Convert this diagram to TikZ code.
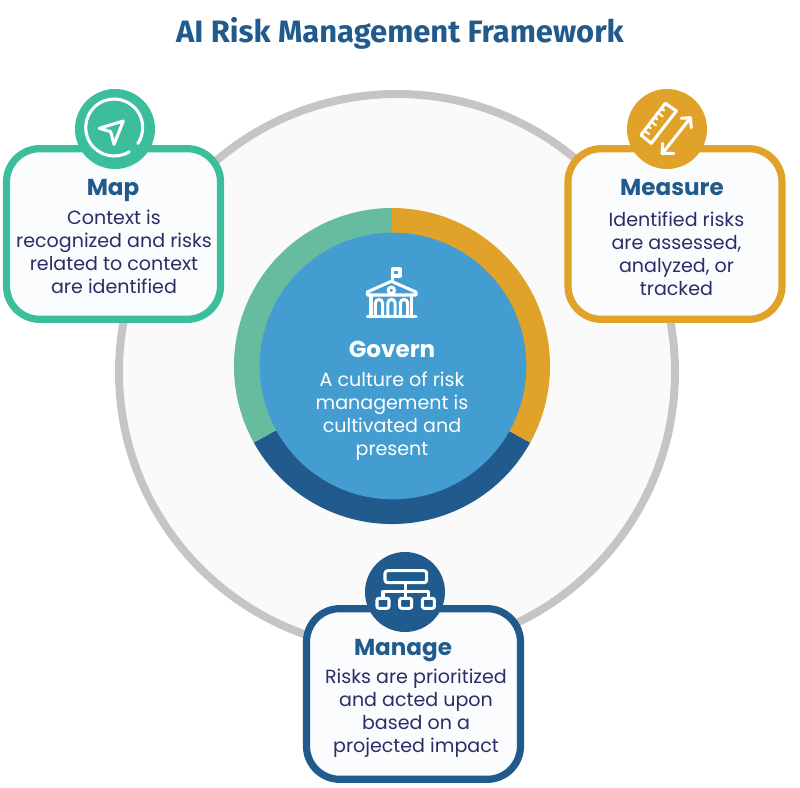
\documentclass[tikz,border=0pt]{standalone}
\usetikzlibrary{calc}
\usepackage{fontspec}
\setmainfont{Poppins}
\newfontfamily\titlefont{Fira Sans}
\definecolor{rmfgreen}{HTML}{3CBE9C}
\definecolor{rmfsage}{HTML}{67BC9F}
\definecolor{rmforange}{HTML}{E0A229}
\definecolor{rmfnavy}{HTML}{215A8C}
\definecolor{rmfblue}{HTML}{449DD1}
\definecolor{rmfgrey}{HTML}{C8C4C6}
\definecolor{rmftext}{HTML}{2A2E66}
\definecolor{rmfpaper}{HTML}{FBFCFE}
\tikzset{
  box/.style={draw=#1,line width=5.4pt,fill=rmfpaper,rounded corners=25pt,minimum width=160.5pt,minimum height=128pt,inner sep=0pt},
  badge/.style={circle,fill=#1,minimum size=60pt,inner sep=0pt},
  head/.style={font=\fontsize{17.3}{20}\selectfont\bfseries,text=rmfnavy},
  body/.style={font=\fontsize{14.3}{17.25}\selectfont,text=rmftext,align=center},
  glyph/.style={draw=white,line width=2.3pt,line join=round,line cap=round},
}
\begin{document}
\begin{tikzpicture}[x=0.75pt,y=-0.75pt]
\useasboundingbox (0,0) rectangle (800,788);
\def\cx{392} \def\cy{366} \def\rr{158} % coloured ring
\node[font=\titlefont\fontsize{23.2}{28}\selectfont\bfseries,text=rmfnavy] (title) at (400,33.5) {AI Risk Management Framework};
\draw[rmfgrey,line width=6pt,fill=black!2] (397,372) circle (278);
\fill[rmfnavy] (\cx,\cy) -- +(29:\rr) arc[start angle=29,end angle=151,radius=\rr] -- cycle;
\fill[rmfsage] (\cx,\cy) -- +(151:\rr) arc[start angle=151,end angle=270,radius=\rr] -- cycle;
\fill[rmforange] (\cx,\cy) -- +(-90:\rr) arc[start angle=-90,end angle=29,radius=\rr] -- cycle;
\node[circle,fill=rmfblue,minimum size=200pt,inner sep=0pt] (govern) at (393,366) {};
\node[head,text=white] (governhead) at (392,349) {Govern};
\node[body,text=white] (governbody) at (392,416.5) {A culture of risk\\management is\\cultivated and\\present};
% Map
\node[box=rmfgreen] (mapbox) at (113.5,234) {};
\node[badge=rmfgreen] (mapbadge) at (115,129) {};
\node[head] (maphead) at (113,190) {Map};
\node[body] (mapbody) at (114,252) {Context is\\recognized and risks\\related to context\\are identified};
\draw[glyph] (129.3,151.7) arc[start angle=58,end angle=394,radius=28.5];
\draw[glyph] (123.3,121) -- (99.3,128.3) -- (110.7,131.7) -- (114,144.3) -- cycle;
% Measure
\node[box=rmforange] (measurebox) at (675,234) {};
\node[badge=rmforange] (measurebadge) at (667,129) {};
\node[head] (measurehead) at (672,187.5) {Measure};
\node[body] (measurebody) at (676.5,254) {Identified risks\\are assessed,\\analyzed, or\\tracked};
\draw[glyph] (665.3,103.3) -- (676.3,111) -- (651.3,143.3) -- (641,135) -- cycle;
\foreach \t/\l in {0.14/6,0.28/3.5,0.42/6,0.56/3.5,0.70/6,0.84/3.5}
  \draw[glyph,line width=1.6pt] ($(641,135)!\t!(665.3,103.3)$) -- ++(0.79*\l,0.61*\l);
\draw[glyph] (690.3,118) -- (662.5,153.3);
\draw[glyph] (681.3,118.3) -- (690.3,117.7) -- (691.3,127.7);
\draw[glyph] (662.7,143.3) -- (662,153.3) -- (673.7,153.3);
% Manage
\node[box=rmfnavy] (managebox) at (413.5,694) {};
\node[badge=rmfnavy] (managebadge) at (405,592) {};
\node[head] (managehead) at (403,651) {Manage};
\node[body] (managebody) at (416,713) {Risks are prioritized\\and acted upon\\based on a\\projected impact};
\draw[glyph,rounded corners=2pt] (385,570.7) rectangle (426.7,582.7);
\draw[glyph] (405.7,582.7) -- (405.7,598.3);
\draw[glyph] (383,598.3) -- (383,591.7) -- (428.4,591.7) -- (428.4,598.3);
\foreach \x in {383,405.7,428.4}
  \draw[glyph,rounded corners=1.5pt] (\x-6,598.3) rectangle (\x+6,608.3);
% building
\draw[glyph] (392.3,281) -- (392.3,269) -- (400,269) -- (400,276) -- (392.3,276);
\draw[glyph] (367.3,295) -- (367.3,292) -- (391.3,281.3) -- (416,292) -- (416,295) -- cycle;
\draw[glyph] (391.3,290.3) circle (3.2);
\draw[glyph] (371,295) -- (371,316.5) (411.7,295) -- (411.7,316.5) (367.3,316.5) -- (416,316.5);
\foreach \x in {379,391.5,404}
  \draw[glyph] (\x-3.6,316.5) -- (\x-3.6,303) arc[start angle=180,end angle=360,radius=3.6] -- (\x+3.6,316.5);
\end{tikzpicture}
\end{document}
